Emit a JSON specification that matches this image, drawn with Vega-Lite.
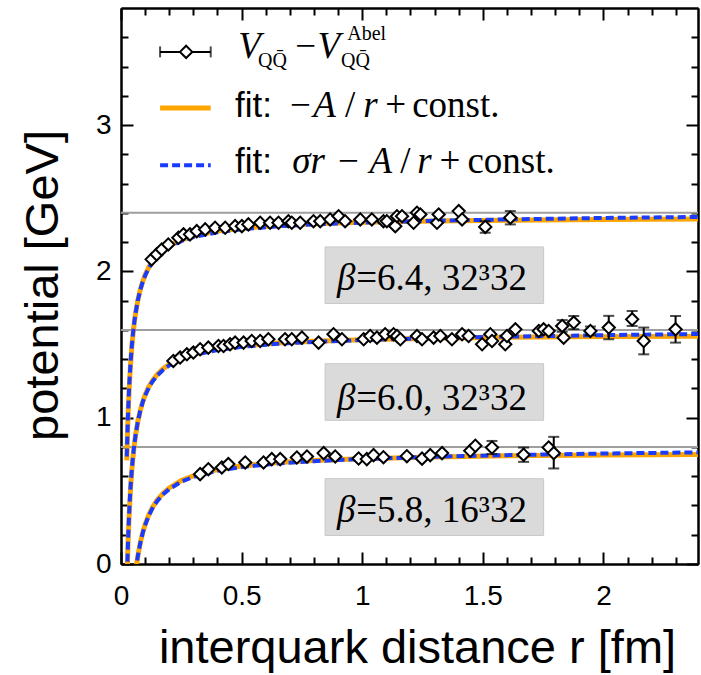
{
  "$schema": "https://vega.github.io/schema/vega-lite/v6.json",
  "width": 577,
  "height": 556,
  "autosize": {"type": "none"},
  "padding": {"left": 121, "top": 8, "right": 3, "bottom": 111},
  "background": "white",
  "config": {
    "view": {"stroke": null},
    "axis": {
      "domainColor": "black", "domainWidth": 2, "tickColor": "black", "tickWidth": 2,
      "grid": false, "labelColor": "black", "labelFont": "Liberation Sans", "labelFontSize": 28,
      "titleColor": "black", "titleFont": "Liberation Sans", "titleFontWeight": "normal", "titleFontSize": 47
    }
  },
  "resolve": {"axis": {"x": "independent", "y": "independent"}},
  "datasets": {
    "plateau": [{"V": 2.4}, {"V": 1.6}, {"V": 0.8}],
    "boxes": [
      {"beta": "6.4", "r1": 0.846, "r2": 1.752, "v1": 1.780, "v2": 2.167},
      {"beta": "6.0", "r1": 0.846, "r2": 1.752, "v1": 0.982, "v2": 1.369},
      {"beta": "5.8", "r1": 0.846, "r2": 1.752, "v1": 0.195, "v2": 0.583}
    ],
    "pts": [
      {"beta": "6.4", "r": 0.127, "V": 2.082}, {"beta": "6.4", "r": 0.148, "V": 2.116}, {"beta": "6.4", "r": 0.169, "V": 2.150},
      {"beta": "6.4", "r": 0.196, "V": 2.184}, {"beta": "6.4", "r": 0.238, "V": 2.230}, {"beta": "6.4", "r": 0.259, "V": 2.253},
      {"beta": "6.4", "r": 0.286, "V": 2.253}, {"beta": "6.4", "r": 0.314, "V": 2.275}, {"beta": "6.4", "r": 0.349, "V": 2.287},
      {"beta": "6.4", "r": 0.390, "V": 2.298}, {"beta": "6.4", "r": 0.432, "V": 2.298}, {"beta": "6.4", "r": 0.473, "V": 2.309},
      {"beta": "6.4", "r": 0.501, "V": 2.309}, {"beta": "6.4", "r": 0.528, "V": 2.321}, {"beta": "6.4", "r": 0.577, "V": 2.332},
      {"beta": "6.4", "r": 0.618, "V": 2.332}, {"beta": "6.4", "r": 0.653, "V": 2.332}, {"beta": "6.4", "r": 0.694, "V": 2.343},
      {"beta": "6.4", "r": 0.708, "V": 2.332}, {"beta": "6.4", "r": 0.743, "V": 2.332}, {"beta": "6.4", "r": 0.798, "V": 2.343},
      {"beta": "6.4", "r": 0.826, "V": 2.343}, {"beta": "6.4", "r": 0.867, "V": 2.355}, {"beta": "6.4", "r": 0.902, "V": 2.377},
      {"beta": "6.4", "r": 0.929, "V": 2.343}, {"beta": "6.4", "r": 0.992, "V": 2.355}, {"beta": "6.4", "r": 1.040, "V": 2.355},
      {"beta": "6.4", "r": 1.088, "V": 2.343}, {"beta": "6.4", "r": 1.102, "V": 2.343}, {"beta": "6.4", "r": 1.137, "V": 2.309},
      {"beta": "6.4", "r": 1.144, "V": 2.377}, {"beta": "6.4", "r": 1.165, "V": 2.377}, {"beta": "6.4", "r": 1.213, "V": 2.332},
      {"beta": "6.4", "r": 1.227, "V": 2.401}, {"beta": "6.4", "r": 1.241, "V": 2.389}, {"beta": "6.4", "r": 1.310, "V": 2.332},
      {"beta": "6.4", "r": 1.317, "V": 2.389}, {"beta": "6.4", "r": 1.400, "V": 2.412}, {"beta": "6.4", "r": 1.414, "V": 2.355},
      {"beta": "6.4", "r": 1.510, "V": 2.304, "lo": 2.264, "hi": 2.343},
      {"beta": "6.4", "r": 1.614, "V": 2.367, "lo": 2.321, "hi": 2.412},
      {"beta": "6.0", "r": 0.217, "V": 1.388}, {"beta": "6.0", "r": 0.245, "V": 1.411}, {"beta": "6.0", "r": 0.273, "V": 1.433},
      {"beta": "6.0", "r": 0.300, "V": 1.445}, {"beta": "6.0", "r": 0.328, "V": 1.468}, {"beta": "6.0", "r": 0.362, "V": 1.479},
      {"beta": "6.0", "r": 0.404, "V": 1.490}, {"beta": "6.0", "r": 0.425, "V": 1.490}, {"beta": "6.0", "r": 0.452, "V": 1.502},
      {"beta": "6.0", "r": 0.473, "V": 1.513}, {"beta": "6.0", "r": 0.508, "V": 1.513}, {"beta": "6.0", "r": 0.542, "V": 1.524},
      {"beta": "6.0", "r": 0.577, "V": 1.524}, {"beta": "6.0", "r": 0.611, "V": 1.536}, {"beta": "6.0", "r": 0.680, "V": 1.536},
      {"beta": "6.0", "r": 0.708, "V": 1.536}, {"beta": "6.0", "r": 0.750, "V": 1.547}, {"beta": "6.0", "r": 0.819, "V": 1.513},
      {"beta": "6.0", "r": 0.881, "V": 1.570}, {"beta": "6.0", "r": 0.916, "V": 1.536}, {"beta": "6.0", "r": 1.006, "V": 1.536},
      {"beta": "6.0", "r": 1.033, "V": 1.558}, {"beta": "6.0", "r": 1.061, "V": 1.547}, {"beta": "6.0", "r": 1.095, "V": 1.570},
      {"beta": "6.0", "r": 1.130, "V": 1.570}, {"beta": "6.0", "r": 1.144, "V": 1.558}, {"beta": "6.0", "r": 1.158, "V": 1.536},
      {"beta": "6.0", "r": 1.227, "V": 1.558}, {"beta": "6.0", "r": 1.248, "V": 1.536}, {"beta": "6.0", "r": 1.296, "V": 1.547},
      {"beta": "6.0", "r": 1.324, "V": 1.558}, {"beta": "6.0", "r": 1.372, "V": 1.536}, {"beta": "6.0", "r": 1.414, "V": 1.570},
      {"beta": "6.0", "r": 1.441, "V": 1.558}, {"beta": "6.0", "r": 1.497, "V": 1.502}, {"beta": "6.0", "r": 1.531, "V": 1.570},
      {"beta": "6.0", "r": 1.538, "V": 1.524}, {"beta": "6.0", "r": 1.593, "V": 1.502}, {"beta": "6.0", "r": 1.600, "V": 1.558},
      {"beta": "6.0", "r": 1.635, "V": 1.604}, {"beta": "6.0", "r": 1.732, "V": 1.593}, {"beta": "6.0", "r": 1.752, "V": 1.604},
      {"beta": "6.0", "r": 1.773, "V": 1.593},
      {"beta": "6.0", "r": 1.829, "V": 1.627, "lo": 1.587, "hi": 1.667},
      {"beta": "6.0", "r": 1.835, "V": 1.547},
      {"beta": "6.0", "r": 1.877, "V": 1.650, "lo": 1.605, "hi": 1.695},
      {"beta": "6.0", "r": 1.946, "V": 1.593, "lo": 1.563, "hi": 1.623},
      {"beta": "6.0", "r": 2.022, "V": 1.616, "lo": 1.536, "hi": 1.696},
      {"beta": "6.0", "r": 2.119, "V": 1.672, "lo": 1.627, "hi": 1.729},
      {"beta": "6.0", "r": 2.167, "V": 1.524, "lo": 1.433, "hi": 1.616},
      {"beta": "6.0", "r": 2.299, "V": 1.604, "lo": 1.513, "hi": 1.695},
      {"beta": "5.8", "r": 0.328, "V": 0.614}, {"beta": "5.8", "r": 0.362, "V": 0.648}, {"beta": "5.8", "r": 0.418, "V": 0.660},
      {"beta": "5.8", "r": 0.445, "V": 0.683}, {"beta": "5.8", "r": 0.515, "V": 0.694}, {"beta": "5.8", "r": 0.591, "V": 0.694},
      {"beta": "5.8", "r": 0.625, "V": 0.717}, {"beta": "5.8", "r": 0.660, "V": 0.717}, {"beta": "5.8", "r": 0.729, "V": 0.728},
      {"beta": "5.8", "r": 0.771, "V": 0.735}, {"beta": "5.8", "r": 0.840, "V": 0.758}, {"beta": "5.8", "r": 0.888, "V": 0.735},
      {"beta": "5.8", "r": 0.985, "V": 0.721}, {"beta": "5.8", "r": 1.019, "V": 0.717}, {"beta": "5.8", "r": 1.047, "V": 0.744},
      {"beta": "5.8", "r": 1.088, "V": 0.730}, {"beta": "5.8", "r": 1.185, "V": 0.737}, {"beta": "5.8", "r": 1.248, "V": 0.720},
      {"beta": "5.8", "r": 1.282, "V": 0.744}, {"beta": "5.8", "r": 1.331, "V": 0.758}, {"beta": "5.8", "r": 1.448, "V": 0.774},
      {"beta": "5.8", "r": 1.469, "V": 0.808},
      {"beta": "5.8", "r": 1.538, "V": 0.796, "lo": 0.751, "hi": 0.841},
      {"beta": "5.8", "r": 1.669, "V": 0.747, "lo": 0.698, "hi": 0.796},
      {"beta": "5.8", "r": 1.773, "V": 0.796},
      {"beta": "5.8", "r": 1.794, "V": 0.758, "lo": 0.653, "hi": 0.869}
    ],
    "fits": [
      {"beta": "6.4", "fit": "coulomb", "r": 0.024, "V": 0.708}, {"beta": "6.4", "fit": "coulomb", "r": 0.026, "V": 0.837},
      {"beta": "6.4", "fit": "coulomb", "r": 0.028, "V": 0.946}, {"beta": "6.4", "fit": "coulomb", "r": 0.030, "V": 1.042},
      {"beta": "6.4", "fit": "coulomb", "r": 0.033, "V": 1.163}, {"beta": "6.4", "fit": "coulomb", "r": 0.036, "V": 1.264},
      {"beta": "6.4", "fit": "coulomb", "r": 0.040, "V": 1.375}, {"beta": "6.4", "fit": "coulomb", "r": 0.045, "V": 1.486},
      {"beta": "6.4", "fit": "coulomb", "r": 0.050, "V": 1.575}, {"beta": "6.4", "fit": "coulomb", "r": 0.055, "V": 1.648},
      {"beta": "6.4", "fit": "coulomb", "r": 0.060, "V": 1.708}, {"beta": "6.4", "fit": "coulomb", "r": 0.070, "V": 1.804},
      {"beta": "6.4", "fit": "coulomb", "r": 0.080, "V": 1.875}, {"beta": "6.4", "fit": "coulomb", "r": 0.090, "V": 1.931},
      {"beta": "6.4", "fit": "coulomb", "r": 0.100, "V": 1.975}, {"beta": "6.4", "fit": "coulomb", "r": 0.115, "V": 2.027},
      {"beta": "6.4", "fit": "coulomb", "r": 0.130, "V": 2.067}, {"beta": "6.4", "fit": "coulomb", "r": 0.150, "V": 2.108},
      {"beta": "6.4", "fit": "coulomb", "r": 0.175, "V": 2.146}, {"beta": "6.4", "fit": "coulomb", "r": 0.200, "V": 2.175},
      {"beta": "6.4", "fit": "coulomb", "r": 0.250, "V": 2.215}, {"beta": "6.4", "fit": "coulomb", "r": 0.300, "V": 2.242},
      {"beta": "6.4", "fit": "coulomb", "r": 0.400, "V": 2.275}, {"beta": "6.4", "fit": "coulomb", "r": 0.500, "V": 2.295},
      {"beta": "6.4", "fit": "coulomb", "r": 0.650, "V": 2.313}, {"beta": "6.4", "fit": "coulomb", "r": 0.800, "V": 2.325},
      {"beta": "6.4", "fit": "coulomb", "r": 1.000, "V": 2.335}, {"beta": "6.4", "fit": "coulomb", "r": 1.300, "V": 2.344},
      {"beta": "6.4", "fit": "coulomb", "r": 1.600, "V": 2.350}, {"beta": "6.4", "fit": "coulomb", "r": 2.000, "V": 2.355},
      {"beta": "6.4", "fit": "coulomb", "r": 2.392, "V": 2.358},
      {"beta": "6.4", "fit": "cornell", "r": 0.024, "V": 0.735}, {"beta": "6.4", "fit": "cornell", "r": 0.026, "V": 0.860},
      {"beta": "6.4", "fit": "cornell", "r": 0.028, "V": 0.967}, {"beta": "6.4", "fit": "cornell", "r": 0.030, "V": 1.060},
      {"beta": "6.4", "fit": "cornell", "r": 0.033, "V": 1.179}, {"beta": "6.4", "fit": "cornell", "r": 0.036, "V": 1.277},
      {"beta": "6.4", "fit": "cornell", "r": 0.040, "V": 1.386}, {"beta": "6.4", "fit": "cornell", "r": 0.045, "V": 1.494},
      {"beta": "6.4", "fit": "cornell", "r": 0.050, "V": 1.581}, {"beta": "6.4", "fit": "cornell", "r": 0.055, "V": 1.652},
      {"beta": "6.4", "fit": "cornell", "r": 0.060, "V": 1.711}, {"beta": "6.4", "fit": "cornell", "r": 0.070, "V": 1.804},
      {"beta": "6.4", "fit": "cornell", "r": 0.080, "V": 1.874}, {"beta": "6.4", "fit": "cornell", "r": 0.090, "V": 1.928},
      {"beta": "6.4", "fit": "cornell", "r": 0.100, "V": 1.971}, {"beta": "6.4", "fit": "cornell", "r": 0.115, "V": 2.022},
      {"beta": "6.4", "fit": "cornell", "r": 0.130, "V": 2.062}, {"beta": "6.4", "fit": "cornell", "r": 0.150, "V": 2.102},
      {"beta": "6.4", "fit": "cornell", "r": 0.175, "V": 2.139}, {"beta": "6.4", "fit": "cornell", "r": 0.200, "V": 2.167},
      {"beta": "6.4", "fit": "cornell", "r": 0.250, "V": 2.207}, {"beta": "6.4", "fit": "cornell", "r": 0.300, "V": 2.234},
      {"beta": "6.4", "fit": "cornell", "r": 0.400, "V": 2.267}, {"beta": "6.4", "fit": "cornell", "r": 0.500, "V": 2.288},
      {"beta": "6.4", "fit": "cornell", "r": 0.650, "V": 2.308}, {"beta": "6.4", "fit": "cornell", "r": 0.800, "V": 2.321},
      {"beta": "6.4", "fit": "cornell", "r": 1.000, "V": 2.333}, {"beta": "6.4", "fit": "cornell", "r": 1.300, "V": 2.346},
      {"beta": "6.4", "fit": "cornell", "r": 1.600, "V": 2.355}, {"beta": "6.4", "fit": "cornell", "r": 2.000, "V": 2.365},
      {"beta": "6.4", "fit": "cornell", "r": 2.392, "V": 2.372},
      {"beta": "6.0", "fit": "coulomb", "r": 0.024, "V": -0.175}, {"beta": "6.0", "fit": "coulomb", "r": 0.026, "V": -0.040},
      {"beta": "6.0", "fit": "coulomb", "r": 0.028, "V": 0.075}, {"beta": "6.0", "fit": "coulomb", "r": 0.030, "V": 0.175},
      {"beta": "6.0", "fit": "coulomb", "r": 0.033, "V": 0.302}, {"beta": "6.0", "fit": "coulomb", "r": 0.036, "V": 0.408},
      {"beta": "6.0", "fit": "coulomb", "r": 0.040, "V": 0.525}, {"beta": "6.0", "fit": "coulomb", "r": 0.045, "V": 0.642},
      {"beta": "6.0", "fit": "coulomb", "r": 0.050, "V": 0.735}, {"beta": "6.0", "fit": "coulomb", "r": 0.055, "V": 0.811},
      {"beta": "6.0", "fit": "coulomb", "r": 0.060, "V": 0.875}, {"beta": "6.0", "fit": "coulomb", "r": 0.070, "V": 0.975},
      {"beta": "6.0", "fit": "coulomb", "r": 0.080, "V": 1.050}, {"beta": "6.0", "fit": "coulomb", "r": 0.090, "V": 1.108},
      {"beta": "6.0", "fit": "coulomb", "r": 0.100, "V": 1.155}, {"beta": "6.0", "fit": "coulomb", "r": 0.115, "V": 1.210},
      {"beta": "6.0", "fit": "coulomb", "r": 0.130, "V": 1.252}, {"beta": "6.0", "fit": "coulomb", "r": 0.150, "V": 1.295},
      {"beta": "6.0", "fit": "coulomb", "r": 0.175, "V": 1.335}, {"beta": "6.0", "fit": "coulomb", "r": 0.200, "V": 1.365},
      {"beta": "6.0", "fit": "coulomb", "r": 0.250, "V": 1.407}, {"beta": "6.0", "fit": "coulomb", "r": 0.300, "V": 1.435},
      {"beta": "6.0", "fit": "coulomb", "r": 0.400, "V": 1.470}, {"beta": "6.0", "fit": "coulomb", "r": 0.500, "V": 1.491},
      {"beta": "6.0", "fit": "coulomb", "r": 0.650, "V": 1.510}, {"beta": "6.0", "fit": "coulomb", "r": 0.800, "V": 1.523},
      {"beta": "6.0", "fit": "coulomb", "r": 1.000, "V": 1.533}, {"beta": "6.0", "fit": "coulomb", "r": 1.300, "V": 1.543},
      {"beta": "6.0", "fit": "coulomb", "r": 1.600, "V": 1.549}, {"beta": "6.0", "fit": "coulomb", "r": 2.000, "V": 1.554},
      {"beta": "6.0", "fit": "coulomb", "r": 2.392, "V": 1.557},
      {"beta": "6.0", "fit": "cornell", "r": 0.024, "V": -0.148}, {"beta": "6.0", "fit": "cornell", "r": 0.026, "V": -0.017},
      {"beta": "6.0", "fit": "cornell", "r": 0.028, "V": 0.096}, {"beta": "6.0", "fit": "cornell", "r": 0.030, "V": 0.194},
      {"beta": "6.0", "fit": "cornell", "r": 0.033, "V": 0.318}, {"beta": "6.0", "fit": "cornell", "r": 0.036, "V": 0.422},
      {"beta": "6.0", "fit": "cornell", "r": 0.040, "V": 0.536}, {"beta": "6.0", "fit": "cornell", "r": 0.045, "V": 0.649},
      {"beta": "6.0", "fit": "cornell", "r": 0.050, "V": 0.741}, {"beta": "6.0", "fit": "cornell", "r": 0.055, "V": 0.815},
      {"beta": "6.0", "fit": "cornell", "r": 0.060, "V": 0.877}, {"beta": "6.0", "fit": "cornell", "r": 0.070, "V": 0.975},
      {"beta": "6.0", "fit": "cornell", "r": 0.080, "V": 1.049}, {"beta": "6.0", "fit": "cornell", "r": 0.090, "V": 1.106},
      {"beta": "6.0", "fit": "cornell", "r": 0.100, "V": 1.151}, {"beta": "6.0", "fit": "cornell", "r": 0.115, "V": 1.205},
      {"beta": "6.0", "fit": "cornell", "r": 0.130, "V": 1.246}, {"beta": "6.0", "fit": "cornell", "r": 0.150, "V": 1.288},
      {"beta": "6.0", "fit": "cornell", "r": 0.175, "V": 1.328}, {"beta": "6.0", "fit": "cornell", "r": 0.200, "V": 1.357},
      {"beta": "6.0", "fit": "cornell", "r": 0.250, "V": 1.399}, {"beta": "6.0", "fit": "cornell", "r": 0.300, "V": 1.427},
      {"beta": "6.0", "fit": "cornell", "r": 0.400, "V": 1.462}, {"beta": "6.0", "fit": "cornell", "r": 0.500, "V": 1.484},
      {"beta": "6.0", "fit": "cornell", "r": 0.650, "V": 1.505}, {"beta": "6.0", "fit": "cornell", "r": 0.800, "V": 1.518},
      {"beta": "6.0", "fit": "cornell", "r": 1.000, "V": 1.531}, {"beta": "6.0", "fit": "cornell", "r": 1.300, "V": 1.544},
      {"beta": "6.0", "fit": "cornell", "r": 1.600, "V": 1.554}, {"beta": "6.0", "fit": "cornell", "r": 2.000, "V": 1.564},
      {"beta": "6.0", "fit": "cornell", "r": 2.392, "V": 1.572},
      {"beta": "5.8", "fit": "coulomb", "r": 0.024, "V": -1.313}, {"beta": "5.8", "fit": "coulomb", "r": 0.030, "V": -0.897},
      {"beta": "5.8", "fit": "coulomb", "r": 0.040, "V": -0.480}, {"beta": "5.8", "fit": "coulomb", "r": 0.050, "V": -0.230},
      {"beta": "5.8", "fit": "coulomb", "r": 0.055, "V": -0.139}, {"beta": "5.8", "fit": "coulomb", "r": 0.060, "V": -0.063},
      {"beta": "5.8", "fit": "coulomb", "r": 0.065, "V": 0.001}, {"beta": "5.8", "fit": "coulomb", "r": 0.070, "V": 0.056},
      {"beta": "5.8", "fit": "coulomb", "r": 0.080, "V": 0.145}, {"beta": "5.8", "fit": "coulomb", "r": 0.090, "V": 0.214},
      {"beta": "5.8", "fit": "coulomb", "r": 0.100, "V": 0.270}, {"beta": "5.8", "fit": "coulomb", "r": 0.115, "V": 0.335},
      {"beta": "5.8", "fit": "coulomb", "r": 0.130, "V": 0.385}, {"beta": "5.8", "fit": "coulomb", "r": 0.150, "V": 0.437},
      {"beta": "5.8", "fit": "coulomb", "r": 0.175, "V": 0.484}, {"beta": "5.8", "fit": "coulomb", "r": 0.200, "V": 0.520},
      {"beta": "5.8", "fit": "coulomb", "r": 0.250, "V": 0.570}, {"beta": "5.8", "fit": "coulomb", "r": 0.300, "V": 0.603},
      {"beta": "5.8", "fit": "coulomb", "r": 0.400, "V": 0.645}, {"beta": "5.8", "fit": "coulomb", "r": 0.500, "V": 0.670},
      {"beta": "5.8", "fit": "coulomb", "r": 0.650, "V": 0.693}, {"beta": "5.8", "fit": "coulomb", "r": 0.800, "V": 0.708},
      {"beta": "5.8", "fit": "coulomb", "r": 1.000, "V": 0.720}, {"beta": "5.8", "fit": "coulomb", "r": 1.300, "V": 0.732},
      {"beta": "5.8", "fit": "coulomb", "r": 1.600, "V": 0.739}, {"beta": "5.8", "fit": "coulomb", "r": 2.000, "V": 0.745},
      {"beta": "5.8", "fit": "coulomb", "r": 2.392, "V": 0.749},
      {"beta": "5.8", "fit": "cornell", "r": 0.024, "V": -1.286}, {"beta": "5.8", "fit": "cornell", "r": 0.030, "V": -0.878},
      {"beta": "5.8", "fit": "cornell", "r": 0.040, "V": -0.470}, {"beta": "5.8", "fit": "cornell", "r": 0.050, "V": -0.224},
      {"beta": "5.8", "fit": "cornell", "r": 0.055, "V": -0.135}, {"beta": "5.8", "fit": "cornell", "r": 0.060, "V": -0.061},
      {"beta": "5.8", "fit": "cornell", "r": 0.065, "V": 0.002}, {"beta": "5.8", "fit": "cornell", "r": 0.070, "V": 0.056},
      {"beta": "5.8", "fit": "cornell", "r": 0.080, "V": 0.144}, {"beta": "5.8", "fit": "cornell", "r": 0.090, "V": 0.212},
      {"beta": "5.8", "fit": "cornell", "r": 0.100, "V": 0.266}, {"beta": "5.8", "fit": "cornell", "r": 0.115, "V": 0.330},
      {"beta": "5.8", "fit": "cornell", "r": 0.130, "V": 0.380}, {"beta": "5.8", "fit": "cornell", "r": 0.150, "V": 0.430},
      {"beta": "5.8", "fit": "cornell", "r": 0.175, "V": 0.477}, {"beta": "5.8", "fit": "cornell", "r": 0.200, "V": 0.512},
      {"beta": "5.8", "fit": "cornell", "r": 0.250, "V": 0.562}, {"beta": "5.8", "fit": "cornell", "r": 0.300, "V": 0.595},
      {"beta": "5.8", "fit": "cornell", "r": 0.400, "V": 0.637}, {"beta": "5.8", "fit": "cornell", "r": 0.500, "V": 0.663},
      {"beta": "5.8", "fit": "cornell", "r": 0.650, "V": 0.687}, {"beta": "5.8", "fit": "cornell", "r": 0.800, "V": 0.703},
      {"beta": "5.8", "fit": "cornell", "r": 1.000, "V": 0.718}, {"beta": "5.8", "fit": "cornell", "r": 1.300, "V": 0.733},
      {"beta": "5.8", "fit": "cornell", "r": 1.600, "V": 0.744}, {"beta": "5.8", "fit": "cornell", "r": 2.000, "V": 0.755},
      {"beta": "5.8", "fit": "cornell", "r": 2.392, "V": 0.763}
    ],
    "legbar": [{"r1": 0.162, "r2": 0.372, "rc": 0.270, "V": 3.50}],
    "leglines": [
      {"fit": "coulomb", "r1": 0.162, "r2": 0.372, "V": 3.116},
      {"fit": "cornell", "r1": 0.162, "r2": 0.372, "V": 2.726}
    ],
    "txtSans": [
      {"t": "fit:", "r": 0.473, "V": 3.056},
      {"t": "fit:", "r": 0.473, "V": 2.669}
    ],
    "txtItalic": [
      {"t": "V", "r": 0.486, "V": 3.458},
      {"t": "V", "r": 0.815, "V": 3.458},
      {"t": "A", "r": 0.797, "V": 3.056},
      {"t": "r", "r": 1.004, "V": 3.056},
      {"t": "σr", "r": 0.710, "V": 2.669},
      {"t": "A", "r": 1.030, "V": 2.669},
      {"t": "r", "r": 1.228, "V": 2.669},
      {"t": "β", "r": 0.895, "V": 1.871},
      {"t": "β", "r": 0.895, "V": 1.050},
      {"t": "β", "r": 0.895, "V": 0.286}
    ],
    "txtRoman": [
      {"t": "−", "r": 0.722, "V": 3.458},
      {"t": "−", "r": 0.701, "V": 3.056},
      {"t": "/", "r": 0.929, "V": 3.056},
      {"t": "+", "r": 1.095, "V": 3.056},
      {"t": "const.", "r": 1.207, "V": 3.056},
      {"t": "−", "r": 0.900, "V": 2.669},
      {"t": "/", "r": 1.158, "V": 2.669},
      {"t": "+", "r": 1.320, "V": 2.669},
      {"t": "const.", "r": 1.436, "V": 2.669},
      {"t": "=6.4, 32³32", "r": 0.975, "V": 1.871},
      {"t": "=6.0, 32³32", "r": 0.975, "V": 1.050},
      {"t": "=5.8, 16³32", "r": 0.975, "V": 0.286}
    ],
    "txtSmall": [
      {"t": "QQ̄", "r": 0.568, "V": 3.396},
      {"t": "QQ̄", "r": 0.912, "V": 3.396},
      {"t": "Abel", "r": 0.938, "V": 3.581}
    ]
  },
  "layer": [
    {
      "data": {"name": "plateau"},
      "mark": {"type": "rule", "color": "#9e9e9e", "strokeWidth": 2},
      "encoding": {
        "y": {"field": "V", "type": "quantitative", "scale": {"domain": [0, 3.8], "nice": false, "zero": false}, "axis": null}
      }
    },
    {
      "data": {"name": "boxes"},
      "mark": {"type": "rect", "fill": "#dadada", "stroke": "#c8c8c8", "strokeWidth": 1},
      "encoding": {
        "x": {"field": "r1", "type": "quantitative", "scale": {"domain": [0, 2.392], "nice": false, "zero": false},
          "axis": {"orient": "bottom", "values": [0, 0.5, 1, 1.5, 2], "format": "~g", "tickSize": -12, "labelPadding": 30,
            "labelFlush": false, "labelOverlap": false, "title": "interquark distance r [fm]",
            "titleX": 296, "titleY": 98, "titleAlign": "center", "titleBaseline": "alphabetic"}},
        "x2": {"field": "r2"},
        "y": {"field": "v1", "type": "quantitative", "scale": {"domain": [0, 3.8], "nice": false, "zero": false},
          "axis": {"orient": "left", "values": [0, 1, 2, 3], "format": "d", "tickSize": -12, "labelPadding": 22,
            "labelFlush": false, "labelOverlap": false, "title": "potential [GeV]",
            "titleX": -78, "titleY": 277, "titleAngle": -90, "titleAlign": "center", "titleBaseline": "middle"}},
        "y2": {"field": "v2"}
      }
    },
    {
      "data": {"name": "fits"},
      "transform": [{"filter": "datum.fit === 'coulomb'"}],
      "mark": {"type": "line", "color": "#ffa500", "strokeWidth": 5, "clip": true},
      "encoding": {
        "x": {"field": "r", "type": "quantitative", "scale": {"domain": [0, 2.392], "nice": false, "zero": false},
          "axis": {"orient": "bottom", "values": [0.1, 0.2, 0.3, 0.4, 0.6, 0.7, 0.8, 0.9, 1.1, 1.2, 1.3, 1.4, 1.6, 1.7, 1.8, 1.9, 2.1, 2.2, 2.3],
            "tickSize": -7, "labels": false, "title": null}},
        "y": {"field": "V", "type": "quantitative", "scale": {"domain": [0, 3.8], "nice": false, "zero": false},
          "axis": {"orient": "left", "values": [0.2, 0.4, 0.6, 0.8, 1.2, 1.4, 1.6, 1.8, 2.2, 2.4, 2.6, 2.8, 3.2, 3.4, 3.6],
            "tickSize": -7, "labels": false, "title": null}},
        "detail": {"field": "beta", "type": "nominal"}
      }
    },
    {
      "data": {"name": "fits"},
      "transform": [{"filter": "datum.fit === 'cornell'"}],
      "mark": {"type": "line", "color": "#1a3cff", "strokeWidth": 4, "strokeDash": [8, 4], "clip": true},
      "encoding": {
        "x": {"field": "r", "type": "quantitative", "scale": {"domain": [0, 2.392], "nice": false, "zero": false},
          "axis": {"orient": "top", "values": [0, 0.5, 1, 1.5, 2], "tickSize": -12, "labels": false, "title": null}},
        "y": {"field": "V", "type": "quantitative", "scale": {"domain": [0, 3.8], "nice": false, "zero": false},
          "axis": {"orient": "right", "values": [0, 1, 2, 3], "tickSize": -12, "labels": false, "title": null}},
        "detail": {"field": "beta", "type": "nominal"}
      }
    },
    {
      "data": {"name": "pts"},
      "transform": [{"filter": "isValid(datum.lo)"}],
      "mark": {"type": "rule", "color": "black", "strokeWidth": 2},
      "encoding": {
        "x": {"field": "r", "type": "quantitative", "axis": null},
        "y": {"field": "lo", "type": "quantitative", "axis": null},
        "y2": {"field": "hi"}
      }
    },
    {
      "data": {"name": "pts"},
      "transform": [{"filter": "isValid(datum.lo)"}],
      "mark": {"type": "tick", "orient": "horizontal", "color": "black", "size": 11, "thickness": 2},
      "encoding": {
        "x": {"field": "r", "type": "quantitative", "axis": null},
        "y": {"field": "lo", "type": "quantitative", "axis": null}
      }
    },
    {
      "data": {"name": "pts"},
      "transform": [{"filter": "isValid(datum.hi)"}],
      "mark": {"type": "tick", "orient": "horizontal", "color": "black", "size": 11, "thickness": 2},
      "encoding": {
        "x": {"field": "r", "type": "quantitative", "axis": null},
        "y": {"field": "hi", "type": "quantitative", "axis": null}
      }
    },
    {
      "data": {"name": "pts"},
      "mark": {"type": "point", "shape": "diamond", "filled": true, "fill": "white", "stroke": "black", "strokeWidth": 2, "size": 150, "opacity": 1},
      "encoding": {
        "x": {"field": "r", "type": "quantitative", "scale": {"domain": [0, 2.392], "nice": false, "zero": false},
          "axis": {"orient": "top", "values": [0.1, 0.2, 0.3, 0.4, 0.6, 0.7, 0.8, 0.9, 1.1, 1.2, 1.3, 1.4, 1.6, 1.7, 1.8, 1.9, 2.1, 2.2, 2.3],
            "tickSize": -7, "labels": false, "title": null}},
        "y": {"field": "V", "type": "quantitative", "scale": {"domain": [0, 3.8], "nice": false, "zero": false},
          "axis": {"orient": "right", "values": [0.2, 0.4, 0.6, 0.8, 1.2, 1.4, 1.6, 1.8, 2.2, 2.4, 2.6, 2.8, 3.2, 3.4, 3.6],
            "tickSize": -7, "labels": false, "title": null}}
      }
    },
    {
      "data": {"name": "legbar"},
      "mark": {"type": "rule", "color": "black", "strokeWidth": 2},
      "encoding": {
        "x": {"field": "r1", "type": "quantitative", "axis": null},
        "x2": {"field": "r2"},
        "y": {"field": "V", "type": "quantitative", "axis": null}
      }
    },
    {
      "data": {"name": "legbar"},
      "mark": {"type": "tick", "orient": "vertical", "color": "black", "size": 11, "thickness": 2},
      "encoding": {
        "x": {"field": "r1", "type": "quantitative", "axis": null},
        "y": {"field": "V", "type": "quantitative", "axis": null}
      }
    },
    {
      "data": {"name": "legbar"},
      "mark": {"type": "tick", "orient": "vertical", "color": "black", "size": 11, "thickness": 2},
      "encoding": {
        "x": {"field": "r2", "type": "quantitative", "axis": null},
        "y": {"field": "V", "type": "quantitative", "axis": null}
      }
    },
    {
      "data": {"name": "legbar"},
      "mark": {"type": "point", "shape": "diamond", "filled": true, "fill": "white", "stroke": "black", "strokeWidth": 2, "size": 150, "opacity": 1},
      "encoding": {
        "x": {"field": "rc", "type": "quantitative", "axis": null},
        "y": {"field": "V", "type": "quantitative", "axis": null}
      }
    },
    {
      "data": {"name": "leglines"},
      "transform": [{"filter": "datum.fit === 'coulomb'"}],
      "mark": {"type": "rule", "color": "#ffa500", "strokeWidth": 5},
      "encoding": {
        "x": {"field": "r1", "type": "quantitative", "axis": null},
        "x2": {"field": "r2"},
        "y": {"field": "V", "type": "quantitative", "axis": null}
      }
    },
    {
      "data": {"name": "leglines"},
      "transform": [{"filter": "datum.fit === 'cornell'"}],
      "mark": {"type": "rule", "color": "#1a3cff", "strokeWidth": 4, "strokeDash": [8, 4]},
      "encoding": {
        "x": {"field": "r1", "type": "quantitative", "axis": null},
        "x2": {"field": "r2"},
        "y": {"field": "V", "type": "quantitative", "axis": null}
      }
    },
    {
      "data": {"name": "txtSans"},
      "mark": {"type": "text", "align": "left", "baseline": "alphabetic", "font": "Liberation Sans", "fontSize": 35, "color": "black"},
      "encoding": {
        "x": {"field": "r", "type": "quantitative", "axis": null},
        "y": {"field": "V", "type": "quantitative", "axis": null},
        "text": {"field": "t"}
      }
    },
    {
      "data": {"name": "txtItalic"},
      "mark": {"type": "text", "align": "left", "baseline": "alphabetic", "font": "Liberation Serif", "fontStyle": "italic", "fontSize": 37, "color": "black"},
      "encoding": {
        "x": {"field": "r", "type": "quantitative", "axis": null},
        "y": {"field": "V", "type": "quantitative", "axis": null},
        "text": {"field": "t"}
      }
    },
    {
      "data": {"name": "txtRoman"},
      "mark": {"type": "text", "align": "left", "baseline": "alphabetic", "font": "Liberation Serif", "fontSize": 37, "color": "black"},
      "encoding": {
        "x": {"field": "r", "type": "quantitative", "axis": null},
        "y": {"field": "V", "type": "quantitative", "axis": null},
        "text": {"field": "t"}
      }
    },
    {
      "data": {"name": "txtSmall"},
      "mark": {"type": "text", "align": "left", "baseline": "alphabetic", "font": "Liberation Serif", "fontSize": 20, "color": "black"},
      "encoding": {
        "x": {"field": "r", "type": "quantitative", "axis": null},
        "y": {"field": "V", "type": "quantitative", "axis": null},
        "text": {"field": "t"}
      }
    }
  ]
}
